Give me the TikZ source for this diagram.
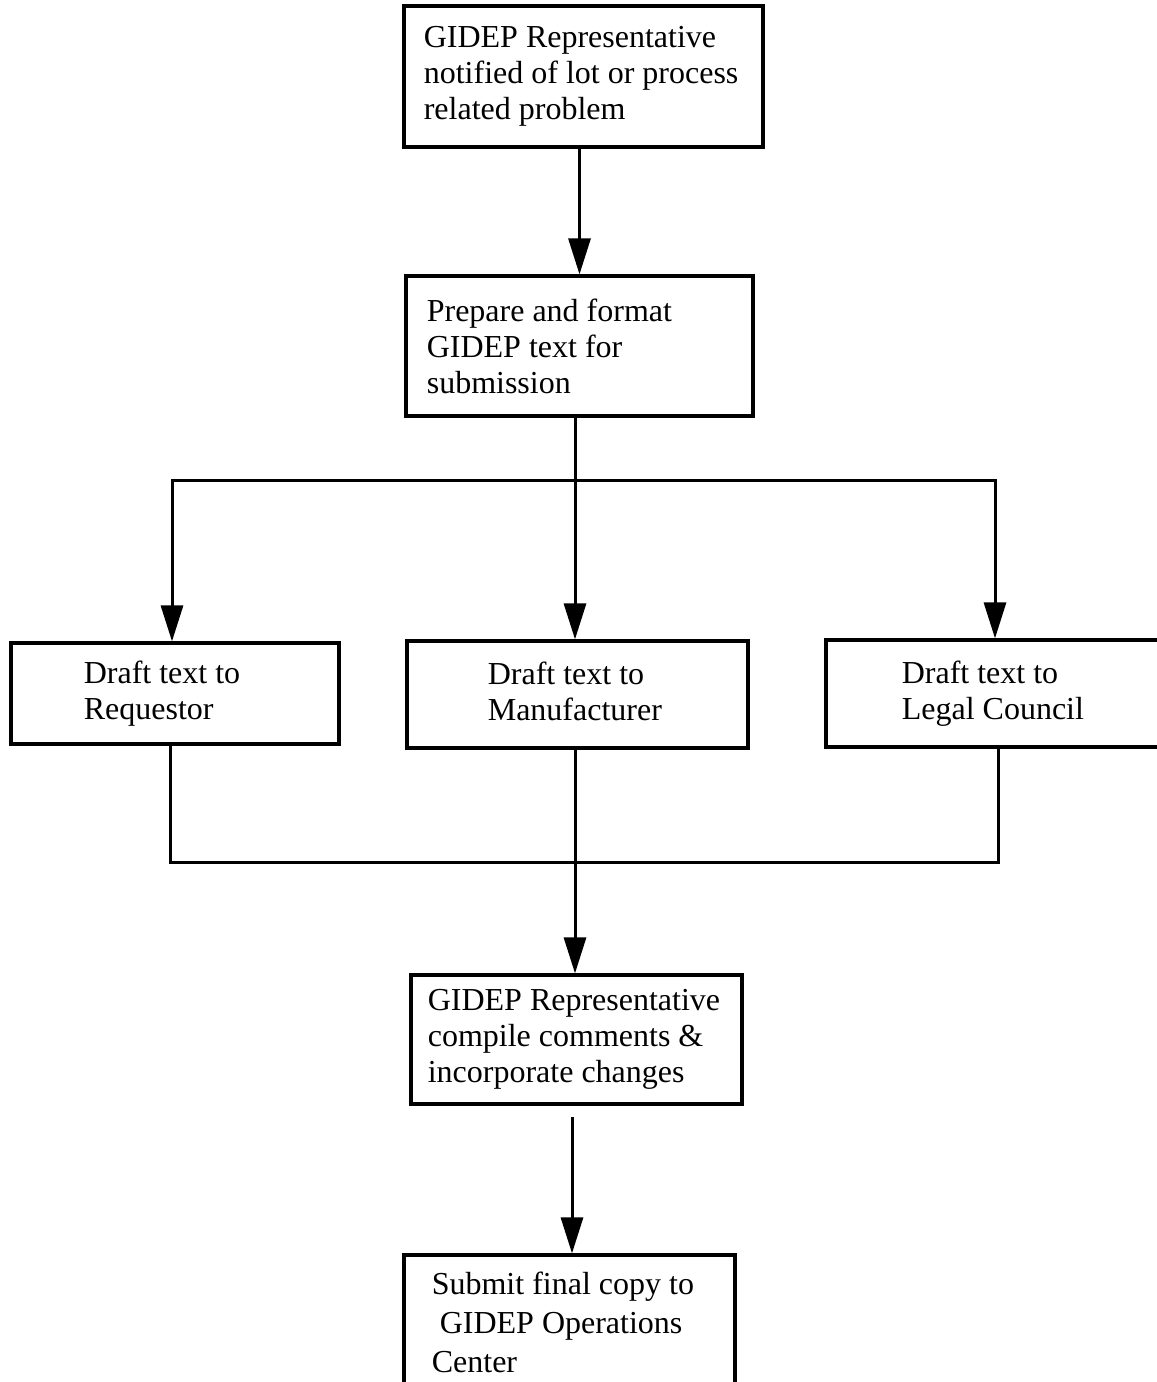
\documentclass[tikz,border=0pt]{standalone}
\usepackage{fontspec}
\setmainfont{Liberation Serif}
\usetikzlibrary{arrows.meta}
\begin{document}
\begin{tikzpicture}[x=0.5pt,y=-0.5pt,
  box/.style={draw, line width=1.6pt, rectangle, inner sep=0pt},
  txt/.style={anchor=west, align=left, inner sep=0pt, font=\fontsize{16pt}{18pt}\selectfont},
  conn/.style={line width=1.5pt},
  arr/.style={conn, -{Triangle[width=11pt,length=18pt]}}]
\fill[white] (0,0) rectangle (1157,1382);
\useasboundingbox (0,0) rectangle (1157,1382);

% boxes
\node[box, minimum width=179.5pt, minimum height=70.5pt] (b1) at (583.5,76.5) {};
\node[txt] (b1t) at ([xshift=10.5pt]b1.west) {GIDEP Representative\\notified of lot or process\\related problem};

\node[box, minimum width=173.5pt, minimum height=70pt] (b2) at (579.5,346) {};
\node[txt] (b2t) at ([xshift=11pt]b2.west) {Prepare and format\\GIDEP text for\\submission};

\node[box, minimum width=164pt, minimum height=50.5pt] (req) at (175,693.5) {};
\node[txt] (reqt) at ([xshift=37pt]req.west) {Draft text to\\Requestor};

\node[box, minimum width=170.5pt, minimum height=53.5pt] (man) at (577.5,694.5) {};
\node[txt] (mant) at ([xshift=41pt,yshift=1.5pt]man.west) {Draft text to\\Manufacturer};

\node[box, minimum width=167pt, minimum height=53.5pt] (leg) at (993,693.5) {};
\node[txt] (legt) at ([xshift=38.5pt]leg.west) {Draft text to\\Legal Council};

\node[box, minimum width=165.5pt, minimum height=64.5pt] (cmp) at (576.5,1039.5) {};
\node[txt] (cmpt) at ([xshift=9pt]cmp.west) {GIDEP Representative\\compile comments \&\\incorporate changes};

\node[box, minimum width=165.5pt, minimum height=67pt] (sub) at (569.5,1322) {};
\node[txt, font=\fontsize{16pt}{19.5pt}\selectfont] (subt) at ([xshift=14.5pt]sub.west) {Submit final copy to\\\hspace*{0.25em}GIDEP Operations\\Center};

% junction points
\coordinate (sM) at (575,480);
\coordinate (sL) at (172,480);
\coordinate (sR) at (995,480);
\coordinate (jL) at (170,862);
\coordinate (jR) at (998,862);
\coordinate (jM) at (575,862);
\coordinate (c1) at (572,1117);

% connectors
\draw[arr] (b1.south -| b2.north) -- (b2.north);
\draw[arr] (b2.south -| sM) -- (man.north -| sM);
\draw[arr] (sM) -- (sL) -- (req.north -| sL);
\draw[arr] (sM) -- (sR) -- (leg.north -| sR);
\draw[conn] (req.south -| jL) -- (jL) -- (jR) -- (leg.south -| jR);
\draw[arr] (man.south -| jM) -- (cmp.north -| jM);
\draw[arr] (c1) -- (sub.north -| c1);
\end{tikzpicture}
\end{document}
